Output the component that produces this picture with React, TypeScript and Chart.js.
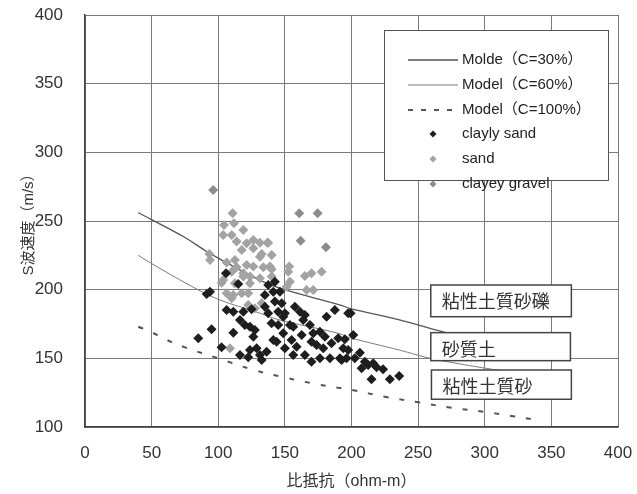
import React, { useEffect, useRef } from "react";
import { Chart, registerables } from "chart.js";

Chart.register(...registerables);

// ---- data ----
const xTickValues = [0, 50, 100, 150, 200, 250, 300, 350, 400];
const yTickValues = [100, 150, 200, 250, 300, 350, 400];

const modelC30: [number, number][] = [
  [40, 256], [50, 251], [75, 238], [91, 228], [100, 223], [131, 207], [150, 200],
  [191, 189], [200, 186], [236, 178], [266, 170], [300, 162], [340, 153],
];
const modelC60: [number, number][] = [
  [40, 225], [50, 219], [79, 203], [100, 193], [131, 183], [139, 180], [150, 177],
  [191, 168], [199, 165], [236, 156], [259, 150], [281, 146], [309, 141.5], [340, 137],
];
const modelC100: [number, number][] = [
  [40, 173], [50, 169], [60, 164], [75, 158], [100, 150], [125, 142], [150, 136],
  [175, 131], [200, 127], [225, 122], [250, 118], [275, 114], [300, 111], [320, 108], [340, 105],
];

const claylySand: [number, number][] = [
  [105.8, 211.9], [93.8, 198.5], [91.3, 196.9], [115, 204.2], [106.3, 185.2], [111.3, 184],
  [118.8, 184], [125, 185.7], [116.3, 177.9], [120, 174.3], [123.8, 173], [127.5, 170.6],
  [95, 171.2], [111.3, 168.7], [85, 164.6], [126.3, 165.8], [123.8, 156.1], [128.8, 157.3],
  [102.5, 158], [116.3, 152.4], [122.5, 150.8], [131.3, 152.4], [132.6, 148.8],
  [135, 196.1], [141.3, 198.5], [146.3, 198.5], [142.5, 191.3], [147.6, 190.1], [135, 187.6],
  [145, 184], [150, 182.8], [157.5, 187.6], [161.3, 184], [165, 181.6], [163.8, 177.9],
  [187.5, 185.2], [181.3, 180.3], [156.3, 173], [168.8, 174.3], [171.3, 168.2], [176.3, 169.4],
  [148.8, 168.2], [162.6, 167], [141.3, 163.4], [155, 163.4], [150, 157.3], [158.8, 158.5],
  [170, 162.1], [180, 165.8], [190, 164.6], [185, 161], [178.8, 157.3], [193.8, 157.3],
  [156.3, 152.4], [165, 152.4], [183.8, 150], [191.3, 150], [170, 147.6], [136.3, 154.8],
  [197.5, 182.8], [137.5, 203.4], [142.5, 205.8], [140, 175.5], [145, 174.3], [143.8, 162.1],
  [173.8, 159.7], [176.3, 150], [137.5, 182.8], [148.8, 180.3], [153.8, 174.3],
  [199.3, 182.8], [195, 163.9], [201.3, 167], [197.5, 156.1], [196.3, 150], [202.5, 150],
  [206.3, 154.1], [210, 147.6], [207.6, 142.8], [212.5, 145.2], [216.3, 146.4], [218.8, 143.5],
  [223.7, 142], [215, 134.7], [228.8, 134.7], [235.8, 137.1], [192.6, 148.8],
];

const sand: [number, number][] = [
  [110.8, 255.6], [104.3, 247.1], [111.8, 248.4], [118.8, 243.5], [103.7, 239.8], [110.1, 239.8],
  [113.8, 235.0], [121.3, 233.8], [126.3, 236.2], [131.3, 234.2], [137.5, 234.2], [117.6, 228.9],
  [126.3, 230.2], [132.6, 226.0], [140.1, 225.3], [106.3, 219.7], [112.5, 221.6], [113.8, 216.3],
  [121.3, 218.0], [126.3, 216.8], [133.8, 216.3], [140.1, 214.9], [118.8, 211.9], [123.8, 209.5],
  [131.3, 208.3], [140.1, 209.5], [110.1, 213.1], [103.7, 207.1], [112.5, 204.7], [123.8, 204.7],
  [106.3, 197.4], [110.1, 193.7], [93.3, 226], [93.8, 221.6], [136.8, 234.2], [131.3, 224],
  [138.8, 216.8], [153.3, 216.8], [152.5, 213.1], [165, 210], [170, 212], [177.6, 213.1],
  [166.3, 199.8], [171.3, 199.8], [153.8, 205.8], [151.3, 202.2], [102.5, 205.1], [111.3, 196.1],
  [117.6, 197.4], [122.5, 197.4], [122.5, 188.9], [127.5, 186.5], [132.6, 190.1], [108.8, 157.3],
  [118.8, 209.5],
];

const clayeyGravel: [number, number][] = [
  [96.2, 272.6], [160.8, 255.6], [174.6, 255.6], [161.8, 235.7], [180.8, 230.9],
];

const seriesLabels = [
  "Molde（C=30%）",
  "Model（C=60%）",
  "Model（C=100%）",
  "clayly sand",
  "sand",
  "clayey gravel",
];
const zoneLabels = ["粘性土質砂礫", "砂質土", "粘性土質砂"];
const xTitle = "比抵抗（ohm-m）";
const yTitle = "S波速度（m/s）";

// ---- styles ----
const FONT = "'Liberation Sans', Arial, 'Noto Sans CJK JP', sans-serif";
const CJK = "'Noto Sans CJK JP', sans-serif";
const C30 = "#555555";
const C60 = "#7a7a7a";
const C100 = "#555555";
const BLACK = "#1e1e1e";
const SAND = "#a3a3a3";
const GRAVEL = "#8c8c8c";

const toXY = (arr: [number, number][]) => arr.map(([x, y]) => ({ x, y }));

function diamond(ctx: CanvasRenderingContext2D, cx: number, cy: number, r: number) {
  ctx.beginPath();
  ctx.moveTo(cx, cy - r);
  ctx.lineTo(cx + r, cy);
  ctx.lineTo(cx, cy + r);
  ctx.lineTo(cx - r, cy);
  ctx.closePath();
  ctx.fill();
}

const overlayPlugin = {
  id: "overlay",
  afterDatasetsDraw(chart: any) {
    const { ctx, chartArea, scales } = chart;
    const xs = scales.x;
    const ys = scales.y;
    ctx.save();

    // zone label boxes (in data units)
    const zones = [
      { x0: 259.5, x1: 365, yTop: 203.4, yBot: 180.3, ty: 191.5 },
      { x0: 259.5, x1: 364.3, yTop: 168.7, yBot: 148.3, ty: 156.5 },
      { x0: 260, x1: 365, yTop: 141.5, yBot: 120.2, ty: 129.5 },
    ];
    zones.forEach((z, i) => {
      const l = xs.getPixelForValue(z.x0);
      const r = xs.getPixelForValue(z.x1);
      const t = ys.getPixelForValue(z.yTop);
      const b = ys.getPixelForValue(z.yBot);
      ctx.fillStyle = "#ffffff";
      ctx.fillRect(l, t, r - l, b - t);
      ctx.strokeStyle = "#444444";
      ctx.lineWidth = 1.5;
      ctx.strokeRect(l, t, r - l, b - t);
      ctx.fillStyle = "#333333";
      ctx.font = `18px ${CJK}`;
      ctx.textAlign = "left";
      ctx.textBaseline = "middle";
      ctx.fillText(zoneLabels[i], l + 11, ys.getPixelForValue(z.ty));
    });

    // legend box
    const lx0 = chartArea.left + 299;
    const lx1 = chartArea.left + 523;
    const ly0 = chartArea.top + 15;
    const ly1 = chartArea.top + 165;
    ctx.fillStyle = "#ffffff";
    ctx.fillRect(lx0, ly0, lx1 - lx0, ly1 - ly0);
    ctx.strokeStyle = "#555555";
    ctx.lineWidth = 1;
    ctx.strokeRect(lx0 + 0.5, ly0 + 0.5, lx1 - lx0, ly1 - ly0);

    const rows = [30, 55, 80, 104, 129, 154];
    const sx0 = lx0 + 24;
    const sx1 = lx0 + 74;
    const tx = lx0 + 78;
    const items = [
      { kind: "line", color: C30, width: 1.3, dash: [] as number[] },
      { kind: "line", color: C60, width: 1, dash: [] as number[] },
      { kind: "line", color: C100, width: 2, dash: [5, 8] },
      { kind: "pt", color: BLACK },
      { kind: "pt", color: SAND },
      { kind: "pt", color: GRAVEL },
    ];
    items.forEach((it: any, i) => {
      const y = ly0 + rows[i];
      if (it.kind === "line") {
        ctx.strokeStyle = it.color;
        ctx.lineWidth = it.width;
        ctx.setLineDash(it.dash);
        ctx.beginPath();
        ctx.moveTo(sx0, y);
        ctx.lineTo(sx1, y);
        ctx.stroke();
        ctx.setLineDash([]);
      } else {
        ctx.fillStyle = it.color;
        diamond(ctx, (sx0 + sx1) / 2, y, 3.5);
      }
      ctx.fillStyle = "#222222";
      ctx.font = `15px ${FONT}`;
      ctx.textAlign = "left";
      ctx.textBaseline = "middle";
      ctx.fillText(seriesLabels[i], tx, y);
    });

    ctx.restore();
  },
};

export default function App() {
  const canvasRef = useRef<HTMLCanvasElement | null>(null);

  useEffect(() => {
    const canvas = canvasRef.current;
    if (!canvas) return;
    const chart = new Chart(canvas, {
      type: "scatter",
      data: {
        datasets: [
          {
            label: seriesLabels[3],
            data: toXY(claylySand),
            backgroundColor: BLACK,
            borderColor: BLACK,
            borderWidth: 0,
            pointStyle: "rectRot",
            pointRadius: 5,
            order: 1,
          },
          {
            label: seriesLabels[5],
            data: toXY(clayeyGravel),
            backgroundColor: GRAVEL,
            borderColor: GRAVEL,
            borderWidth: 0,
            pointStyle: "rectRot",
            pointRadius: 5,
            order: 2,
          },
          {
            label: seriesLabels[4],
            data: toXY(sand),
            backgroundColor: SAND,
            borderColor: SAND,
            borderWidth: 0,
            pointStyle: "rectRot",
            pointRadius: 5,
            order: 3,
          },
          {
            type: "line",
            label: seriesLabels[0],
            data: toXY(modelC30),
            borderColor: C30,
            borderWidth: 1.3,
            pointRadius: 0,
            tension: 0.4,
            order: 4,
          } as any,
          {
            type: "line",
            label: seriesLabels[1],
            data: toXY(modelC60),
            borderColor: C60,
            borderWidth: 1,
            pointRadius: 0,
            tension: 0.4,
            order: 5,
          } as any,
          {
            type: "line",
            label: seriesLabels[2],
            data: toXY(modelC100),
            borderColor: C100,
            borderWidth: 2,
            borderDash: [5, 11],
            pointRadius: 0,
            tension: 0.4,
            order: 6,
          } as any,
        ],
      },
      options: {
        animation: false,
        responsive: false,
        devicePixelRatio: 1,
        layout: { padding: { left: 0, right: 19, top: 15, bottom: 0 } },
        plugins: {
          legend: { display: false },
          tooltip: { enabled: false },
        },
        scales: {
          x: {
            type: "linear",
            min: 0,
            max: 400,
            afterBuildTicks: (s: any) => {
              s.ticks = xTickValues.map((v) => ({ value: v }));
            },
            ticks: {
              color: "#333333",
              padding: 16,
              font: { size: 17, family: FONT },
            },
            grid: { color: "#7a7a7a", lineWidth: 1, drawTicks: false },
            border: { color: "#444444", width: 1.5 },
            title: {
              display: true,
              text: xTitle,
              color: "#333333",
              font: { size: 16, family: FONT },
              padding: { top: 0, bottom: 3 },
            },
            afterFit: (s: any) => {
              s.height = 67;
              s.paddingLeft = 0;
              s.paddingRight = 0;
            },
          },
          y: {
            type: "linear",
            min: 100,
            max: 400,
            afterBuildTicks: (s: any) => {
              s.ticks = yTickValues.map((v) => ({ value: v }));
            },
            ticks: {
              color: "#333333",
              padding: 22,
              font: { size: 17, family: FONT },
            },
            grid: { color: "#7a7a7a", lineWidth: 1, drawTicks: false },
            border: { color: "#444444", width: 1.5 },
            title: {
              display: true,
              text: yTitle,
              color: "#333333",
              font: { size: 15, family: FONT },
              padding: { top: 20, bottom: 0 },
            },
            afterFit: (s: any) => {
              s.width = 85;
              s.paddingTop = 0;
              s.paddingBottom = 0;
            },
          },
        },
      },
      plugins: [overlayPlugin],
    });
    return () => chart.destroy();
  }, []);

  return (
    <div style={{ position: "fixed", left: 0, top: 0, width: 637, height: 494, background: "#ffffff" }}>
      <canvas ref={canvasRef} width={637} height={494} style={{ width: 637, height: 494 }} />
    </div>
  );
}
